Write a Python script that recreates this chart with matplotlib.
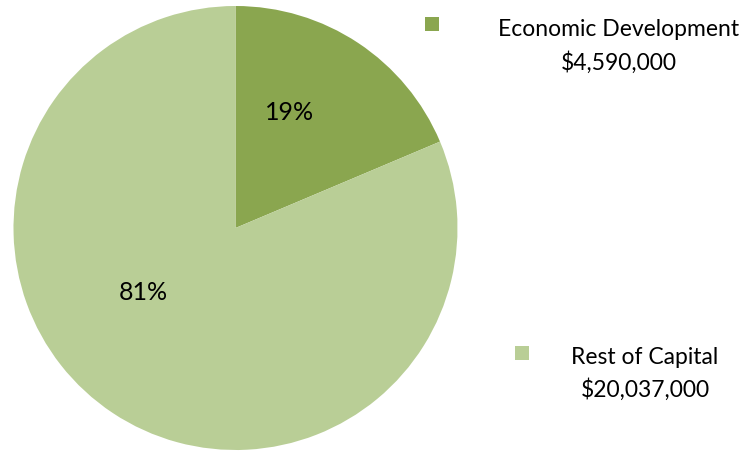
import matplotlib.pyplot as plt
from matplotlib.patches import Rectangle

categories = ["Economic Development", "Rest of Capital"]
amounts = [4590000, 20037000]
colors = ["#8AA64F", "#B9CE96"]

# label placements in pixel space (x right, y up from bottom)
pct_positions = [(290, 451 - 113), (143, 451 - 292)]
legend_marker_xy = [(425, 451 - 31), (515, 451 - 360)]
legend_text_xy = [(619, 451 - 30), (645, 451 - 357)]

plt.rcParams["font.family"] = ["Lato", "DejaVu Sans"]

fig = plt.figure(figsize=(7.49, 4.51), dpi=100)
ax = fig.add_axes([0, 0, 1, 1])

wedges, texts, autotexts = ax.pie(
    amounts,
    colors=colors,
    startangle=90,
    counterclock=False,
    center=(235.5, 451 - 228),
    radius=222,
    autopct=lambda p: f"{p:.0f}%",
    textprops={"fontsize": 18, "color": "black"},
    wedgeprops={"linewidth": 0},
)
ax.set_xlim(0, 749)
ax.set_ylim(0, 451)
ax.set_aspect("equal")
ax.axis("off")
for t, (x, y) in zip(autotexts, pct_positions):
    t.set_position((x, y))

for name, amount, color, (mx, my), (tx, ty) in zip(
    categories, amounts, colors, legend_marker_xy, legend_text_xy
):
    ax.add_patch(Rectangle((mx, my), 14, 14, facecolor=color, edgecolor="none"))
    ax.text(tx, ty, name, ha="center", va="center", fontsize=16.5)
    ax.text(tx, ty - 33, f"${amount:,}", ha="center", va="center", fontsize=16.5)

fig.savefig("out.png", dpi=100)
